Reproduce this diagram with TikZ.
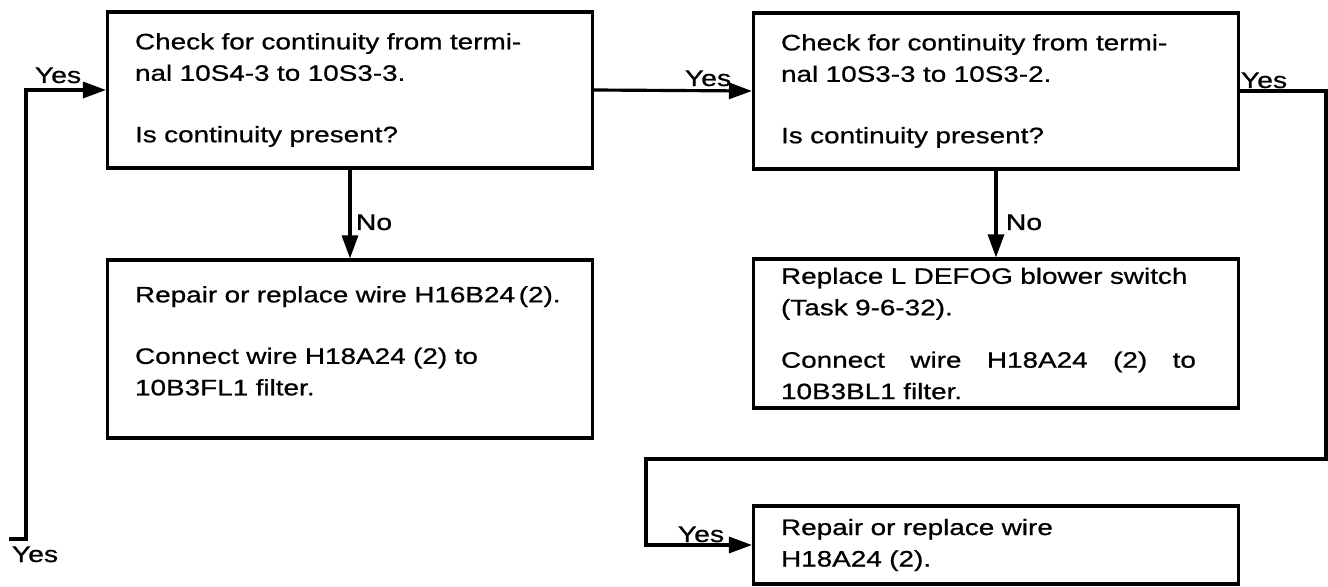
\documentclass[tikz,border=0pt]{standalone}
\usepackage{fontspec}
\setmainfont{Liberation Sans}[FakeStretch=1.25,FakeBold=0.8]
\usetikzlibrary{positioning,arrows.meta}

\begin{document}
\begin{tikzpicture}[
  x=0.02cm, y=-0.02cm,
  box/.style={draw, line width=1.8pt, align=left, text width=8.6cm,
    inner xsep=0.55cm, inner ysep=0.1cm,
    font=\fontsize{12.7pt}{17.9pt}\selectfont},
  lb/.style={font=\fontsize{12.9pt}{17.9pt}\selectfont, inner sep=0pt, anchor=base},
  wire/.style={line width=1.8pt},
  arr/.style={wire, -{Triangle[length=0.46cm, width=0.32cm]}},
]
\useasboundingbox (0,0) rectangle (1328,587);
% first check and its repair
\node[box, minimum height=3.12cm] (chkA) at (350,90)
  {Check for continuity from termi-\\nal 10S4-3 to 10S3-3.\\[0.6cm]Is continuity present?};
\node[box, minimum height=3.56cm] (fixB) at (350,349)
  {Repair or replace wire H16B24\,(2).\\[0.6cm]Connect wire H18A24 (2) to\\10B3FL1 filter.\\[-0.3cm]\mbox{}};
% second check and its repairs
\node[box, minimum height=2.98cm] (fixD) at (996,333.5)
  {Replace L DEFOG blower switch\\(Task 9-6-32).\\[0.42cm]\leavevmode\hbox to 8.3cm{Connect\hfill wire\hfill H18A24\hfill (2)\hfill to}\\10B3BL1 filter.};
\node[box, minimum height=3.12cm] (chkC) at (996,91)
  {Check for continuity from termi-\\nal 10S3-3 to 10S3-2.\\[0.6cm]Is continuity present?};
\node[box, minimum height=1.56cm] (fixE) at (996,545)
  {Repair or replace wire\\H18A24 (2).};

% bends of the connectors
\coordinate (inYes) at (9,539);
\coordinate (bendL) at (26,539);
\coordinate (bendR) at (1326,459);
\coordinate (bendM) at (646,459);

\draw[arr] (inYes) -- (bendL) |- (chkA.west);
\draw[arr] (chkA.east) -- (chkC.west);
\draw[arr] (chkA.south) -- (fixB.north);
\draw[arr] (chkC.south) -- (fixD.north);
\draw[arr] (chkC.east) -| (bendR) -- (bendM) |- (fixE.west);

% labels
\node[lb] (yesIn) at (35,562) {Yes};
\node[lb] (yesA) at (58,83) {Yes};
\node[lb] (yesAC) at (708,86) {Yes};
\node[lb] (yesC) at (1264,88) {Yes};
\node[lb] (yesE) at (701,542) {Yes};
\node[lb] (noA) at (374,230) {No};
\node[lb] (noC) at (1024,230) {No};
\end{tikzpicture}
\end{document}
